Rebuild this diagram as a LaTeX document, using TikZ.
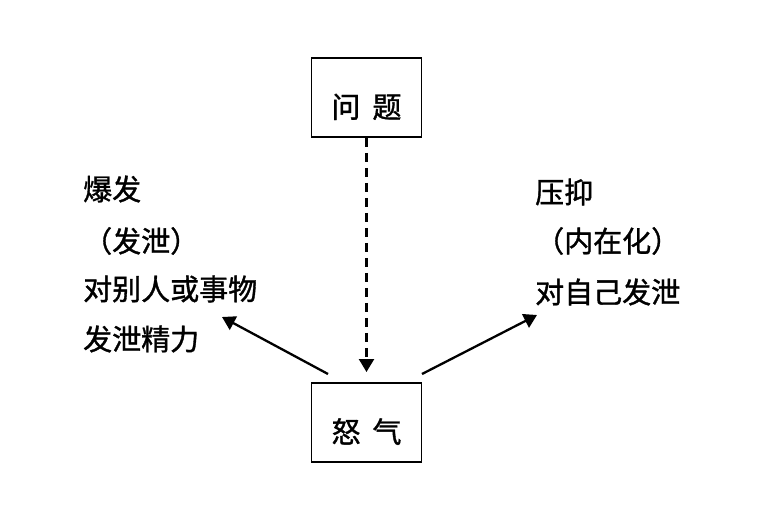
\documentclass[tikz,border=0pt]{standalone}
\usepackage{fontspec}
\setmainfont{Noto Sans CJK SC}[BoldFont={Noto Sans CJK SC}, BoldFeatures={FakeBold=1.2}]
\usetikzlibrary{arrows.meta}

\tikzset{
    box/.style={draw, line width=1.6pt, minimum width=110pt, minimum height=79pt, inner sep=0pt,
        text height=44pt, text depth=3.6pt, font=\fontsize{29}{36}\selectfont\bfseries},
    txt/.style={anchor=west, inner sep=0pt, font=\fontsize{29}{34}\selectfont\bfseries},
    arr/.style={line width=2.3pt, -{Triangle[length=13pt, width=15pt]}}
}

\begin{document}
\begin{tikzpicture}[x=1pt, y=-1pt]
    \useasboundingbox (0, 0) rectangle (768, 530);
    \node[box] (wenti) at (366.5, 97.5) {问\hspace{12pt}题};
    \node[box] (nuqi) at (366.5, 422.5) {怒\hspace{12pt}气};
	% left side
    \node[txt] (bao1) at (83, 189) {爆发};
    \node[txt] (bao2) at (83, 241) {（发泄）};
    \node[txt] (bao3) at (83, 289) {对别人或事物};
    \node[txt] (bao4) at (83, 339) {发泄精力};
	% right side
    \node[txt] (ya1) at (535, 192) {压抑};
    \node[txt] (ya2) at (535, 241) {（内在化）};
    \node[txt] (ya3) at (535, 292) {对自己发泄};
    \coordinate (l0) at (328, 374);
    \coordinate (l1) at (222, 317);
    \coordinate (r0) at (422, 374);
    \coordinate (r1) at (537, 315);
    \coordinate (d1) at (366.5, 372);
    \draw[arr, dash pattern=on 9pt off 6pt] (wenti) -- (d1);
    \draw[arr] (l0) -- (l1);
    \draw[arr] (r0) -- (r1);
\end{tikzpicture}
\end{document}
